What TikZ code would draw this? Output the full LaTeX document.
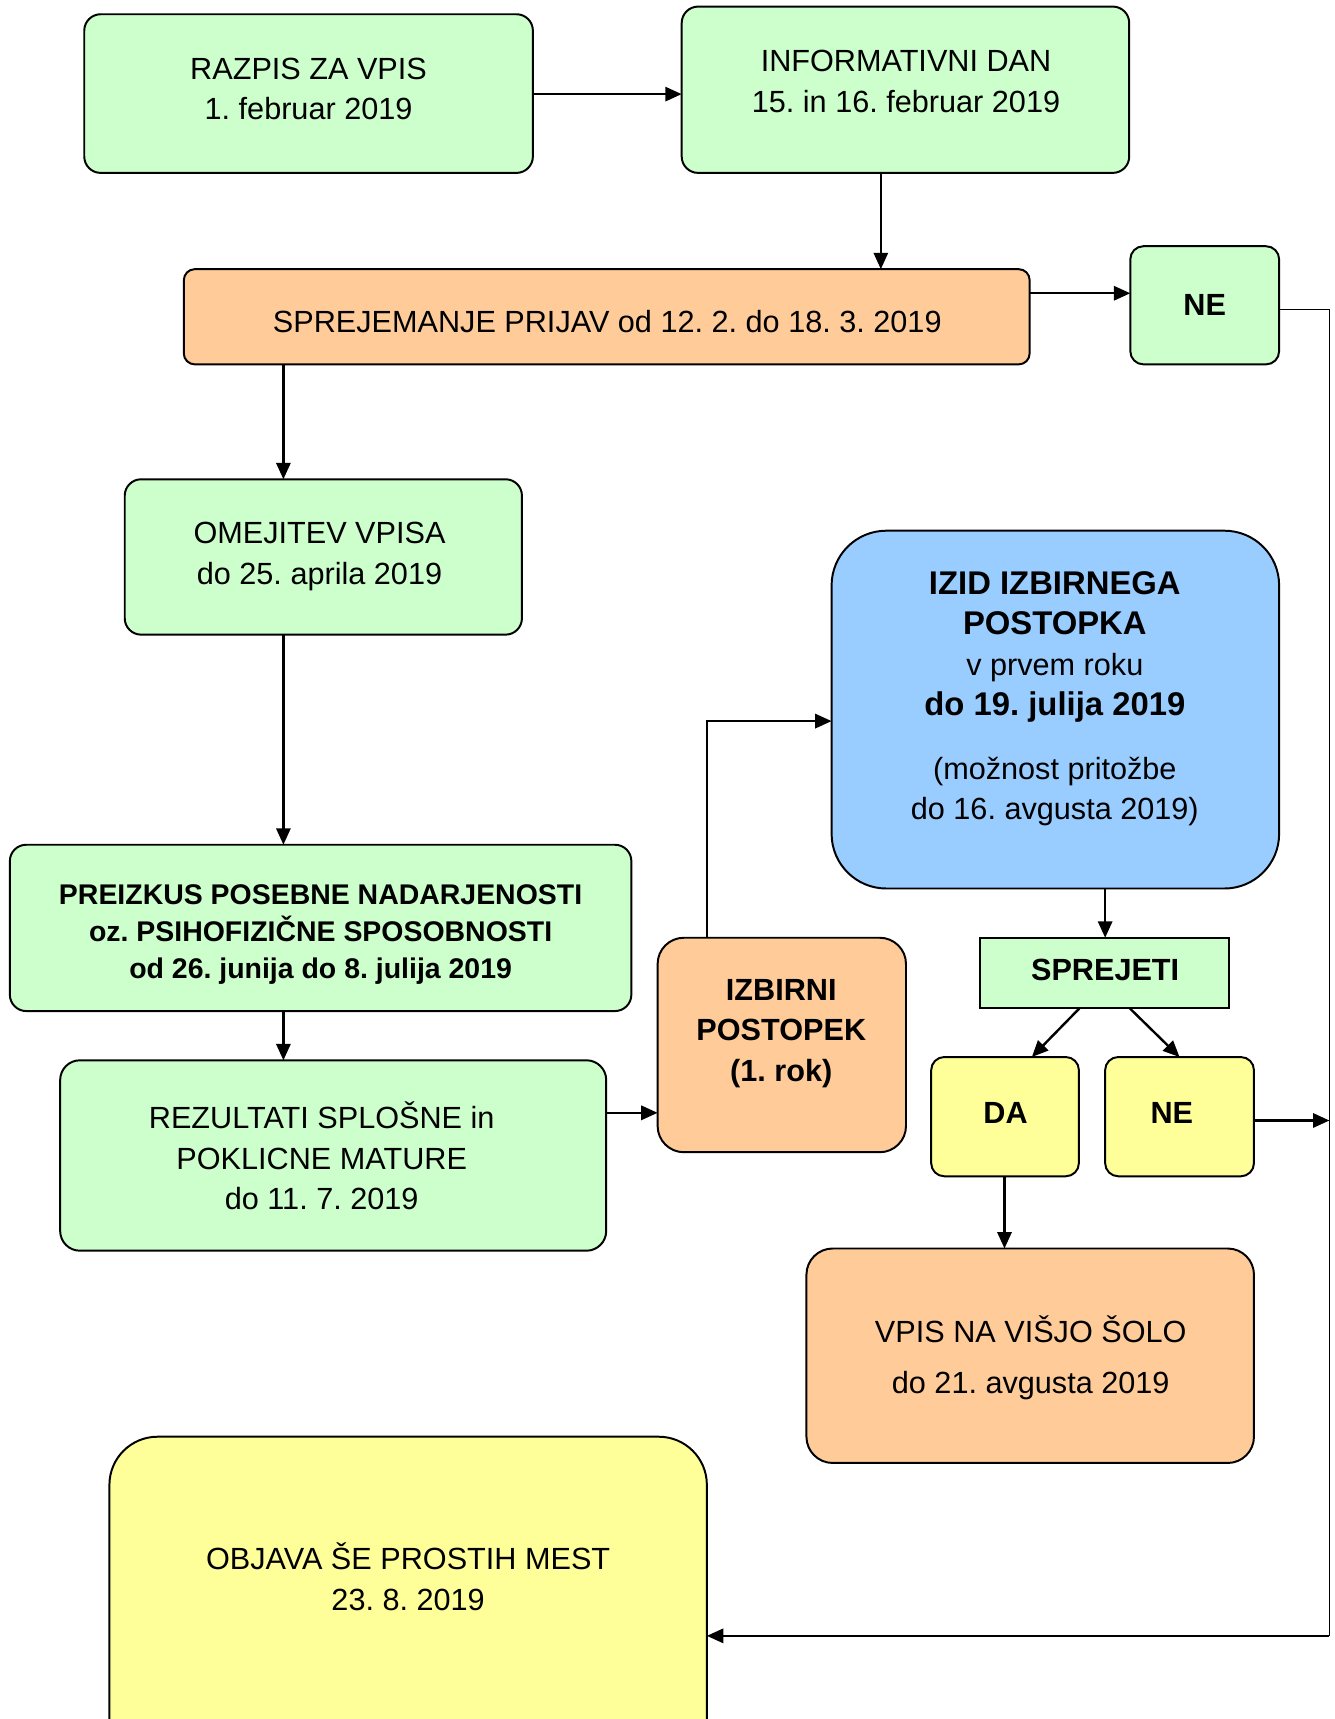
\documentclass[tikz,border=0pt]{standalone}
\usepackage{fontspec}
\setmainfont{Liberation Sans}
\usetikzlibrary{arrows.meta,fit}
\definecolor{cgreen}{HTML}{CCFFCC}
\definecolor{corange}{HTML}{FFCC99}
\definecolor{cblue}{HTML}{99CCFF}
\definecolor{cyellow}{HTML}{FFFF99}
\frenchspacing
\begin{document}
\begin{tikzpicture}[x=0.5pt,y=-0.5pt,
  box/.style={draw=black, line width=0.9pt, inner sep=0pt, outer sep=0pt},
  txt/.style={align=center, font=\fontsize{14}{18.5}\selectfont, inner sep=0pt},
  btxt/.style={align=center, font=\fontsize{14}{18.5}\selectfont\bfseries, inner sep=0pt},
  arr/.style={line width=1.1pt, -{Triangle[length=7.5pt,width=6.5pt]}},
  ln/.style={line width=1.1pt}]
\useasboundingbox (0,0) rectangle (1220,1571);
\clip (0,0) rectangle (1220,1571);
\fill[white] (0,0) rectangle (1220,1571);

% boxes
\node[box, fill=cgreen, rounded corners=7.5pt, fit={(77,13) (487,158)}] (razpis) {};
\node[box, fill=cgreen, rounded corners=7.5pt, fit={(623,6) (1032,158)}] (info) {};
\node[box, fill=corange, rounded corners=5pt, fit={(168,246) (941,333)}] (sprej) {};
\node[box, fill=cgreen, rounded corners=6pt, fit={(1033,225) (1169,333)}] (ne) {};
\node[box, fill=cgreen, rounded corners=7.5pt, fit={(114,438) (477,580)}] (omej) {};
\node[box, fill=cblue, rounded corners=25pt, fit={(760,485) (1169,812)}] (izid) {};
\node[box, fill=cgreen, rounded corners=7.5pt, fit={(9,772) (577,924)}] (preiz) {};
\node[box, fill=corange, rounded corners=12pt, fit={(601,857) (828,1053)}] (izb) {};
\node[box, fill=cgreen, fit={(896,857) (1123,921)}] (sprejeti) {};
\node[box, fill=cgreen, rounded corners=9pt, fit={(55,969) (554,1143)}] (rez) {};
\node[box, fill=cyellow, rounded corners=6pt, fit={(851,966) (986,1075)}] (da) {};
\node[box, fill=cyellow, rounded corners=6pt, fit={(1010,966) (1146,1075)}] (ne2) {};
\node[box, fill=corange, rounded corners=12pt, fit={(737,1141) (1146,1337)}] (vpis) {};
\node[box, fill=cyellow, rounded corners=22pt, fit={(100,1313) (646,1640)}] (objava) {};

% texts
\node[txt] (razpis-t) at (282,81.5) {RAZPIS ZA VPIS\\1. februar 2019};
\node[txt] (info-t) at (828,74.5) {INFORMATIVNI DAN\\15. in 16. februar 2019};
\node[txt] (sprej-t) at (555,294) {SPREJEMANJE PRIJAV od 12. 2. do 18. 3. 2019};
\node[btxt] (ne-t) at (1101,279) {NE};
\node[txt] (omej-t) at (292,508.5) {OMEJITEV VPISA\\do 25. aprila 2019};
\node[align=center, inner sep=0pt, font=\fontsize{15}{18.5}\selectfont] (izid-t) at (964,638.5)
  {\textbf{IZID IZBIRNEGA}\\\textbf{POSTOPKA}\\{\fontsize{14}{18.5}\selectfont v prvem roku}\\\textbf{do 19. julija 2019}\\[10.5pt]{\fontsize{14}{18.5}\selectfont (možnost pritožbe}\\{\fontsize{14}{18.5}\selectfont do 16. avgusta 2019)}};
\node[align=center, inner sep=0pt, font=\fontsize{13}{17}\selectfont\bfseries] (preiz-t) at (293,854)
  {PREIZKUS POSEBNE NADARJENOSTI\\oz. PSIHOFIZIČNE SPOSOBNOSTI\\od 26. junija do 8. julija 2019};
\node[btxt] (izb-t) at (714,944.5) {IZBIRNI\\POSTOPEK\\(1. rok)};
\node[btxt] (sprejeti-t) at (1010,886) {SPREJETI};
\node[txt] (rez-t) at (294,1056.5) {REZULTATI SPLOŠNE in\\POKLICNE MATURE\\do 11. 7. 2019};
\node[btxt] (da-t) at (919,1017) {DA};
\node[btxt] (ne2-t) at (1071,1017) {NE};
\node[align=center, inner sep=0pt, font=\fontsize{14}{23}\selectfont] (vpis-t) at (942,1241) {VPIS NA VIŠJO ŠOLO\\do 21. avgusta 2019};
\node[txt] (objava-t) at (373,1441) {OBJAVA ŠE PROSTIH MEST\\23. 8. 2019};

% helper coordinates
\coordinate (y86) at (0,86);
\coordinate (x805) at (805,0);
\coordinate (y268) at (0,268);
\coordinate (y283) at (0,283);
\coordinate (loopR) at (1215,283);
\coordinate (loopB) at (1215,1495);
\coordinate (loopM) at (1215,1024);
\coordinate (x259) at (259,0);
\coordinate (y1017) at (0,1017);
\coordinate (x646) at (646,0);
\coordinate (bend) at (646,659);
\coordinate (x1010) at (1010,0);
\coordinate (x987) at (987,0);
\coordinate (x943) at (943,0);
\coordinate (x1032) at (1032,0);
\coordinate (x1078) at (1078,0);
\coordinate (x918) at (918,0);

% connectors
\draw[arr] (razpis.east |- y86) -- (info.west |- y86);
\draw[arr] (info.south -| x805) -- (sprej.north -| x805);
\draw[arr] (sprej.east |- y268) -- (ne.west |- y268);
\draw[line width=0.6pt] (ne.east |- y283) -- (loopR) -- (loopB);
\draw[arr] (loopB) -- (objava.east |- loopB);
\draw[arr] (sprej.south -| x259) -- (omej.north -| x259);
\draw[arr] (omej.south -| x259) -- (preiz.north -| x259);
\draw[arr] (preiz.south -| x259) -- (rez.north -| x259);
\draw[arr] (rez.east |- y1017) -- (izb.west |- y1017);
\draw[arr] (izb.north -| x646) -- (bend) -- (izid.west |- bend);
\draw[arr] (izid.south -| x1010) -- (sprejeti.north -| x1010);
\draw[arr] (sprejeti.south -| x987) -- (da.north -| x943);
\draw[arr] (sprejeti.south -| x1032) -- (ne2.north -| x1078);
\draw[arr] (ne2.east |- loopM) -- (loopM);
\draw[arr] (da.south -| x918) -- (vpis.north -| x918);
\end{tikzpicture}
\end{document}
